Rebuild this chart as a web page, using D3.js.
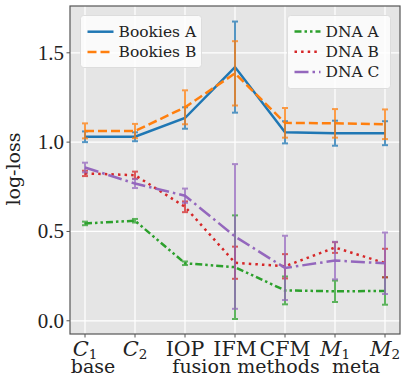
<!DOCTYPE html>
<html>
<head>
<meta charset="utf-8">
<script src="https://cdn.jsdelivr.net/npm/d3@7"></script>
<style>
  body { margin: 0; background: #fff; }
  svg { display: block; }
</style>
</head>
<body>
<svg id="chart" width="407" height="389"></svg>
<script>
var methods = ["C1", "C2", "IOP", "IFM", "CFM", "M1", "M2"];
var groups = ["base", "fusion methods", "meta"];
var yTicks = [0.0, 0.5, 1.0, 1.5];

var bookiesA = [1.03, 1.03, 1.135, 1.42, 1.055, 1.05, 1.05];
var bookiesAErr = [0.03, 0.025, 0.06, 0.255, 0.062, 0.07, 0.067];
var bookiesB = [1.063, 1.062, 1.195, 1.385, 1.108, 1.105, 1.10];
var bookiesBErr = [0.042, 0.04, 0.095, 0.18, 0.083, 0.08, 0.083];
var dnaA = [0.545, 0.56, 0.322, 0.30, 0.17, 0.165, 0.167];
var dnaAErr = [0.01, 0.01, 0.01, 0.29, 0.078, 0.06, 0.077];
var dnaB = [0.825, 0.815, 0.638, 0.325, 0.305, 0.41, 0.323];
var dnaBErr = [0.015, 0.02, 0.03, 0.09, 0.068, 0.03, 0.08];
var dnaC = [0.858, 0.768, 0.70, 0.472, 0.296, 0.337, 0.322];
var dnaCErr = [0.027, 0.025, 0.04, 0.405, 0.18, 0.105, 0.172];

var series = [
    { name: "Bookies A", values: bookiesA, err: bookiesAErr, color: "#1f77b4", dash: null },
    { name: "Bookies B", values: bookiesB, err: bookiesBErr, color: "#ff7f0e", dash: "9,4" },
    { name: "DNA A", values: dnaA, err: dnaAErr, color: "#2ca02c", dash: "7,3,2.5,3,2.5,3" },
    { name: "DNA B", values: dnaB, err: dnaBErr, color: "#d62728", dash: "2.5,4.1" },
    { name: "DNA C", values: dnaC, err: dnaCErr, color: "#9467bd", dash: "14,4,2.5,4" }
];

var margin = { top: 6, right: 7, bottom: 55, left: 70 },
    W = 407, H = 389;

var svg = d3.select("#chart");

var x = d3.scaleLinear().domain([-0.3, methods.length - 1 + 0.3]).range([margin.left, W - margin.right]);
var y = d3.scaleLinear().domain([-0.074, 1.762]).range([H - margin.bottom, margin.top]);

// Plot background ---
svg.append("rect")
    .attr("x", margin.left).attr("y", margin.top)
    .attr("width", W - margin.left - margin.right)
    .attr("height", H - margin.top - margin.bottom)
    .attr("fill", "#e5e5e5");

// Grid ---
var grid = svg.append("g").attr("stroke", "#fff").attr("stroke-width", 1.2);
grid.selectAll("line.gx").data(methods).enter().append("line")
    .attr("x1", function (d, i) { return x(i); })
    .attr("x2", function (d, i) { return x(i); })
    .attr("y1", margin.top).attr("y2", H - margin.bottom);
grid.selectAll("line.gy").data(yTicks).enter().append("line")
    .attr("x1", margin.left).attr("x2", W - margin.right)
    .attr("y1", function (d) { return y(d); })
    .attr("y2", function (d) { return y(d); });

// Series ---
var line = d3.line()
    .x(function (d, i) { return x(i); })
    .y(function (d) { return y(d); });

var plot = svg.append("g");
series.forEach(function (s) {
    var g = plot.append("g");
    var eb = g.append("g")
        .attr("stroke", s.color)
        .attr("stroke-width", 2)
        .attr("opacity", 0.75);
    s.values.forEach(function (v, i) {
        var cx = x(i), lo = y(v - s.err[i]), hi = y(v + s.err[i]);
        eb.append("line").attr("x1", cx).attr("x2", cx).attr("y1", lo).attr("y2", hi);
        eb.append("line").attr("x1", cx - 3).attr("x2", cx + 3).attr("y1", lo).attr("y2", lo);
        eb.append("line").attr("x1", cx - 3).attr("x2", cx + 3).attr("y1", hi).attr("y2", hi);
    });
    g.append("path")
        .datum(s.values)
        .attr("d", line)
        .attr("fill", "none")
        .attr("stroke", s.color)
        .attr("stroke-width", 2.5)
        .attr("stroke-dasharray", s.dash);
});

// Frame ---
svg.append("rect")
    .attr("x", margin.left).attr("y", margin.top)
    .attr("width", W - margin.left - margin.right)
    .attr("height", H - margin.top - margin.bottom)
    .attr("fill", "none")
    .attr("stroke", "#555")
    .attr("stroke-width", 1.2);

// Y axis ---
var yAxis = svg.append("g");
yTicks.forEach(function (t) {
    yAxis.append("line")
        .attr("x1", margin.left - 3.5).attr("x2", margin.left)
        .attr("y1", y(t)).attr("y2", y(t))
        .attr("stroke", "#555").attr("stroke-width", 1);
    yAxis.append("text")
        .attr("x", margin.left - 6).attr("y", y(t) + 7)
        .attr("text-anchor", "end")
        .attr("font-family", "Liberation Serif")
        .attr("font-size", 21)
        .attr("fill", "#222")
        .text(t.toFixed(1));
});
svg.append("text")
    .attr("transform", "translate(20," + 169 + ") rotate(-90)")
    .attr("text-anchor", "middle")
    .attr("font-family", "DejaVu Serif")
    .attr("font-size", 19)
    .attr("fill", "#222")
    .text("log-loss");

// X axis ---
var xAxis = svg.append("g");
methods.forEach(function (m, i) {
    xAxis.append("line")
        .attr("x1", x(i)).attr("x2", x(i))
        .attr("y1", H - margin.bottom).attr("y2", H - margin.bottom + 3.5)
        .attr("stroke", "#555").attr("stroke-width", 1);
    var t = xAxis.append("text")
        .attr("x", x(i)).attr("y", 356)
        .attr("text-anchor", "middle")
        .attr("font-family", "DejaVu Serif")
        .attr("font-size", 20.5)
        .attr("fill", "#222");
    var sub = m.match(/^([CM])(\d)$/);
    if (sub) {
        t.append("tspan").attr("font-style", "italic").attr("font-size", 21).text(sub[1]);
        t.append("tspan").attr("font-size", 13.5).attr("dy", 3).text(sub[2]);
    } else {
        t.text(m);
    }
});
var groupX = [93, 246, 356];
groups.forEach(function (g, i) {
    xAxis.append("text")
        .attr("x", groupX[i]).attr("y", 373)
        .attr("text-anchor", "middle")
        .attr("font-family", "DejaVu Serif")
        .attr("font-size", 19)
        .attr("fill", "#222")
        .text(g);
});

// Legends ---
function legend(items, bx, by, bw, bh, row0) {
    var lg = svg.append("g");
    lg.append("rect")
        .attr("x", bx).attr("y", by).attr("width", bw).attr("height", bh)
        .attr("rx", 3)
        .attr("fill", "#fff").attr("fill-opacity", 0.8)
        .attr("stroke", "#ddd").attr("stroke-width", 1);
    items.forEach(function (s, i) {
        var cy = row0 + i * 20.2;
        lg.append("line")
            .attr("x1", bx + 7).attr("x2", bx + 33)
            .attr("y1", cy).attr("y2", cy)
            .attr("stroke", s.color).attr("stroke-width", 2.5)
            .attr("stroke-dasharray", s.dash);
        lg.append("text")
            .attr("x", bx + 38).attr("y", cy + 5.5)
            .attr("font-family", "DejaVu Serif")
            .attr("font-size", 15.5)
            .attr("fill", "#222")
            .text(s.name);
    });
}
legend(series.slice(0, 2), 80.5, 15.5, 121, 52, 31.7);
legend(series.slice(2), 287.5, 15.5, 103, 73, 31.5);
</script>
</body>
</html>
